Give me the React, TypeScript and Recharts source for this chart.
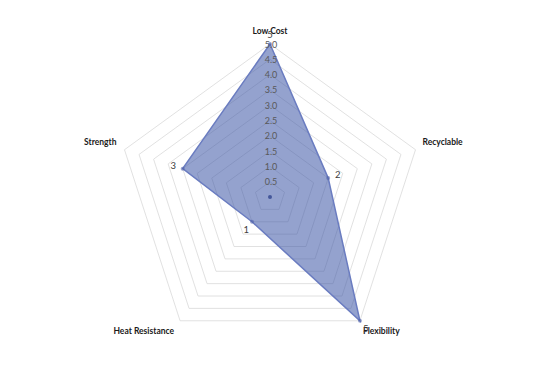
import { RadarChart, Radar, PolarGrid, PolarAngleAxis, PolarRadiusAxis, LabelList } from "recharts";

const criteria = ["Low Cost", "Recyclable", "Flexibility", "Heat Resistance", "Strength"];
const scores = [5, 2, 5, 1, 3];
const radiusDomain = [0, 5];
const radiusTicks = [0, 0.5, 1, 1.5, 2, 2.5, 3, 3.5, 4, 4.5, 5];

const data = criteria.map((name, i) => ({ name, score: scores[i] }));

const CX = 270;
const CY = 197;
const R = 153;
const FONT = "Lato, 'Noto Sans', sans-serif";

function AngleTick(props: any) {
  const { payload, index } = props;
  const a = (90 - index * 72) * Math.PI / 180;
  const ux = Math.cos(a);
  const uy = -Math.sin(a);
  const vx = CX + R * ux;
  const vy = CY + R * uy;
  let x = vx, y = vy - 13, anchor: any = "middle";
  if (Math.abs(ux) > 0.1) {
    if (uy < 0) {
      x = vx + (ux > 0 ? 7 : -8);
      y = vy - 8;
    } else {
      x = vx + (ux > 0 ? 3 : -6);
      y = vy + 10;
    }
    anchor = ux > 0 ? "start" : "end";
  }
  return (
    <text x={x} y={y} textAnchor={anchor} dominantBaseline="central" fontSize={8.5} fontWeight={700} fill="#1a1a1a" fontFamily={FONT}>
      {payload.value}
    </text>
  );
}

function RadiusTick(props: any) {
  const { x, y, payload } = props;
  if (payload.value === 0) {
    return <circle cx={x} cy={y} r={2} fill="#44579a" />;
  }
  return (
    <text x={x + 1} y={y} textAnchor="middle" dominantBaseline="central" fontSize={9} fill="#595959" fontFamily={FONT}>
      {Number(payload.value).toFixed(1)}
    </text>
  );
}

function ValueLabel(props: any) {
  const { x, y, value } = props;
  const dx = x - CX;
  const dy = y - CY;
  const len = Math.hypot(dx, dy) || 1;
  const off = 10;
  return (
    <text x={x + (dx / len) * off} y={y + (dy / len) * off} textAnchor="middle" dominantBaseline="central" fontSize={9.5} fill="#404040" fontFamily={FONT}>
      {value}
    </text>
  );
}

export default function App() {
  return (
    <div style={{ position: "absolute", left: 0, top: 0, width: 538, height: 367, background: "#fff" }}>
      <RadarChart width={538} height={367} data={data} cx={CX} cy={CY} outerRadius={R} margin={{ top: 0, right: 0, bottom: 0, left: 0 }}>
        <PolarGrid gridType="polygon" radialLines={false} stroke="#d9d9d9" strokeWidth={0.8} />
        <PolarAngleAxis dataKey="name" tick={<AngleTick />} tickLine={false} axisLine={false} />
        <PolarRadiusAxis
          angle={90}
          domain={radiusDomain}
          ticks={radiusTicks as any}
          tickCount={radiusTicks.length}
          axisLine={false}
          tickLine={false}
          tick={<RadiusTick />}
        />
        <Radar
          dataKey="score"
          stroke="#6a7cc0"
          strokeWidth={1.5}
          fill="#3d55a5"
          fillOpacity={0.55}
          dot={{ r: 2, fill: "#4a5da6", stroke: "none" }}
          isAnimationActive={false}
        >
          <LabelList dataKey="score" content={<ValueLabel />} />
        </Radar>
      </RadarChart>
    </div>
  );
}
